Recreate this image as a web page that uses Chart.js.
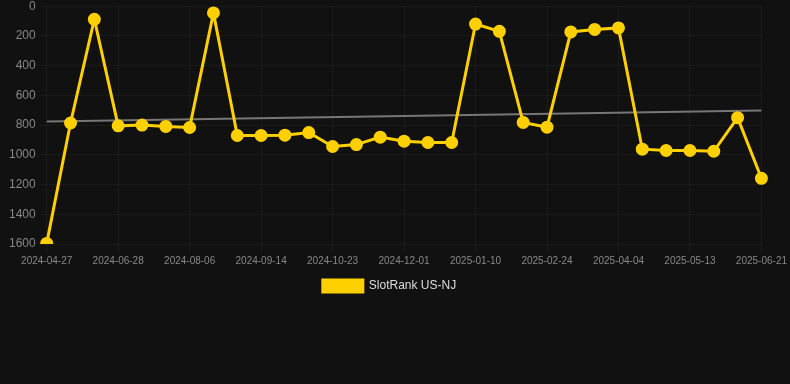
<!DOCTYPE html>
<html>
<head>
<meta charset="utf-8">
<script src="https://cdn.jsdelivr.net/npm/chart.js@4/dist/chart.umd.min.js"></script>
<style>
  html, body { margin: 0; padding: 0; background: #111111; overflow: hidden; }
  #wrap { position: relative; top: -4px; width: 790px; height: 306px; }
</style>
</head>
<body>
<div id="wrap"><canvas id="c"></canvas></div>
<script>
const dates = [
  "2024-04-27","2024-05-18","2024-06-08","2024-06-28","2024-07-11","2024-07-24",
  "2024-08-06","2024-08-19","2024-09-01","2024-09-14","2024-09-27","2024-10-10",
  "2024-10-23","2024-11-05","2024-11-18","2024-12-01","2024-12-14","2024-12-27",
  "2025-01-10","2025-01-25","2025-02-09","2025-02-24","2025-03-08","2025-03-22",
  "2025-04-04","2025-04-17","2025-04-30","2025-05-13","2025-05-26","2025-06-08",
  "2025-06-21"
];
const ranks = [
  1596, 786, 88, 805, 800, 809,
  816, 45, 870, 870, 868, 850,
  944, 931, 881, 908, 917, 917,
  120, 169, 782, 814, 173, 156,
  146, 962, 971, 971, 976, 750,
  1158
];
const trendStart = 775;
const trendEnd = 701;
const trend = dates.map((d, i) => i === 0 ? trendStart : (i === dates.length - 1 ? trendEnd : null));
const yTicks = [0, 200, 400, 600, 800, 1000, 1200, 1400, 1600];

new Chart(document.getElementById('c'), {
  type: 'line',
  data: {
    labels: dates,
    datasets: [
      {
        label: 'SlotRank US-NJ',
        data: ranks,
        borderColor: '#FFD000',
        backgroundColor: '#FFD000',
        borderWidth: 3,
        pointRadius: 5,
        pointHoverRadius: 5,
        pointBackgroundColor: '#FFD000',
        pointBorderColor: '#FFD000',
        tension: 0,
        order: 1
      },
      {
        label: 'trend',
        data: trend,
        spanGaps: true,
        borderColor: '#777777',
        borderWidth: 2,
        pointRadius: 0,
        tension: 0,
        order: 2
      }
    ]
  },
  options: {
    responsive: true,
    maintainAspectRatio: false,
    animation: false,
    layout: { padding: { top: 0, left: 0, right: 11 } },
    plugins: {
      legend: {
        position: 'bottom',
        labels: {
          color: '#dddddd',
          font: { family: 'Liberation Sans, Arial, sans-serif', size: 12 },
          boxWidth: 40,
          boxHeight: 12,
          filter: (item) => item.text !== 'trend'
        }
      },
      tooltip: { enabled: false }
    },
    scales: {
      x: {
        grid: { color: 'rgba(255,255,255,0.04)' },
        border: { display: false },
        ticks: {
          color: '#888888',
          font: { family: 'Liberation Sans, Arial, sans-serif', size: 10 },
          maxRotation: 0,
          autoSkip: true,
          callback: function(v, i) { return i % 3 === 0 ? dates[i] : null; }
        }
      },
      y: {
        reverse: true,
        min: 0,
        max: 1600,
        grid: { color: 'rgba(255,255,255,0.04)' },
        border: { display: false },
        afterBuildTicks: (axis) => { axis.ticks = yTicks.map(v => ({ value: v })); },
        afterFit: (axis) => { axis.width += 6; },
        ticks: {
          color: '#888888',
          font: { family: 'Liberation Sans, Arial, sans-serif', size: 12 },
          callback: (v) => String(v)
        }
      }
    }
  }
});
</script>
</body>
</html>
